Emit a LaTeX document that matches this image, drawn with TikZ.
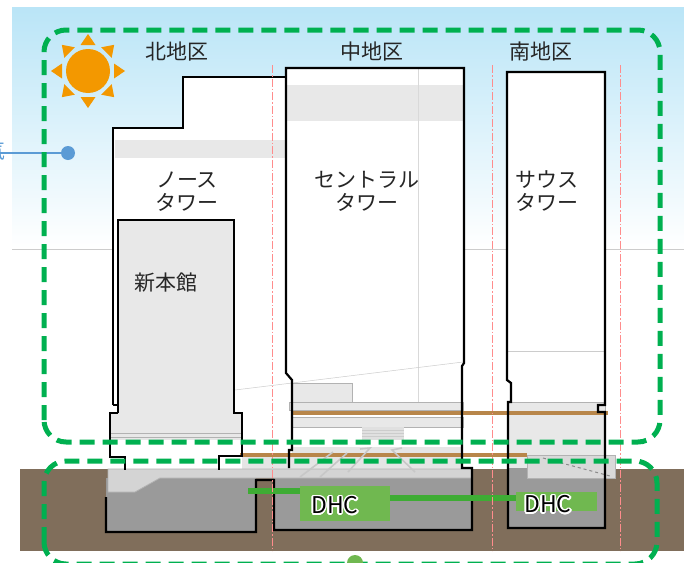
\documentclass[tikz,border=0pt]{standalone}
\usepackage{fontspec}
\setmainfont{Noto Sans CJK JP}
\usepackage[copies]{contour}
\contourlength{1.4pt}
\definecolor{skyblue}{RGB}{178,226,246}
\definecolor{soil}{RGB}{128,110,91}
\definecolor{zonegreen}{RGB}{0,176,80}
\definecolor{sunorange}{RGB}{243,152,0}
\definecolor{slabgray}{RGB}{232,232,232}
\definecolor{basegray}{RGB}{154,154,154}
\definecolor{beam}{RGB}{184,134,74}
\definecolor{dhcgreen}{RGB}{112,184,80}
\definecolor{pipegreen}{RGB}{62,172,52}
\definecolor{airblue}{RGB}{91,155,213}

\begin{document}
\begin{tikzpicture}[x=1pt,y=-1pt,inner sep=0pt]
\tikzstyle{wall}=[draw=black, line width=2.2pt, line join=miter]
\tikzstyle{zone}=[draw=zonegreen, line width=5pt, dash pattern=on 15pt off 8pt, rounded corners=22pt]
\tikzstyle{axis}=[draw=red!45, line width=0.8pt, dash pattern=on 8pt off 2pt on 1.5pt off 2pt]
\tikzstyle{floor}=[fill=slabgray, draw=black!30, line width=0.8pt]
\tikzstyle{ramp}=[draw=black!22, line width=1.6pt]
\tikzstyle{label}=[font=\fontsize{21}{23}\selectfont, align=center, text=black!85]
\tikzstyle{dhctext}=[font=\fontsize{23}{25}\selectfont, text=black]
\useasboundingbox (0,0) rectangle (684,562);
\shade[top color=skyblue!90!white, middle color=skyblue, bottom color=white] (12,7) rectangle (684,248);
\draw[black!20, line width=0.6pt] (12,249) -- (684,249);
\fill[soil] (20,469) rectangle (684,551);
\fill[sunorange] (88,71) circle (22);
\foreach \a in {0,45,...,315}
  \fill[sunorange, shift={(88,71)}, rotate=\a] (37,0) -- (26,7.5) -- (26,-7.5) -- cycle;
\coordinate (inlet) at (-2,153);
\node[circle, fill=airblue, minimum size=14pt] (vent) at (68,153) {};
\draw[airblue, line width=2.5pt] (inlet) -- (vent);
\node[font=\fontsize{21}{23}\selectfont, text=airblue] (air) at (-5,151) {気};
\fill[basegray] (106,478) rectangle (256,532);
\fill[basegray] (274,468) rectangle (472,530);
\fill[basegray] (508,468) rectangle (605,528);
\fill[white] (113,128) -- (183,128) -- (183,77) -- (286,77) -- (286,447) -- (242,447) -- (242,413) -- (113,413) -- cycle;
\fill[black!9] (115,140) rectangle (285,158);
\fill[white] (286,68) rectangle (464,468);
\fill[black!9] (287,85) rectangle (463,121);
\draw[black!15, line width=0.8pt] (418,69) -- (418,410);
\fill[white] (507,72) rectangle (605,402);
\draw[black!20, line width=0.6pt] (507,351) -- (605,351);
\draw[floor] (508,402) rectangle (605,442);
\fill[slabgray] (508,442) rectangle (605,468);
\fill[slabgray] (118,220) rectangle (234,413);
\fill[slabgray] (110,413) rectangle (242,440);
\draw[black!30, line width=0.6pt] (110,433) -- (242,433) (110,437) -- (242,437);
\fill[white] (110,440) rectangle (242,469);
\draw[black!20, line width=0.5pt] (235,390) -- (463,362);
\draw[floor] (292,383) rectangle (352,402);
\draw[floor] (289,402) rectangle (463,410);
\draw[floor] (291,417) rectangle (463,427);
\fill[black!12] (362,427) rectangle (404,440);
\foreach \y in {430,433,436}
  \draw[black!20, line width=0.5pt] (362,\y) -- (404,\y);
\fill[black!10] (292,447) rectangle (463,469);
\fill[black!10] (242,457) rectangle (292,469);
\draw[beam, line width=3.5pt] (291,413) -- (608,413);
\draw[beam, line width=3.5pt] (240,455) -- (527,455);
\draw[floor, fill=black!17] (108,469) -- (472,469) -- (472,478) -- (160,478) -- (135,492) -- (108,492) -- cycle;
\draw[ramp] (300,477) -- (333,452);
\draw[ramp] (320,477) -- (347,453);
\draw[ramp] (348,472) -- (370,448) -- (360,449);
\draw[ramp] (415,472) -- (392,450) -- (402,448);
\draw[floor, fill=black!15] (527,455) rectangle (615,478);
\draw[black!45, line width=1pt, dashed] (543,458) -- (610,476);
\draw[wall] (113,405) -- (113,128) -- (183,128) -- (183,77) -- (286,77);
\draw[wall] (113,405) -- (118,405);
\draw[wall] (118,413) -- (118,220) -- (234,220) -- (234,413) -- (242,413) -- (242,456) -- (219,456) -- (219,470);
\draw[wall] (118,413) -- (110,413) -- (110,457) -- (125,457) -- (125,470);
\draw[wall] (289,468) -- (289,450) -- (292,450) -- (292,380) -- (286,373) -- (286,68) -- (464,68) -- (464,363) -- (462,366) -- (462,468) -- (472,468) -- (472,530) -- (274,530) -- (274,480) -- (256,480) -- (256,532) -- (106,532) -- (106,497);
\draw[wall] (605,528) -- (508,528) -- (508,402) -- (511,402) -- (511,383) -- (507,380) -- (507,72) -- (605,72) -- (605,405) -- (598,405) -- (598,412) -- (605,412) -- cycle;
\draw[pipegreen, line width=6pt] (248,491) -- (300,491);
\draw[pipegreen, line width=6pt] (390,498) -- (516,498);
\fill[dhcgreen] (300,486) rectangle (390,521);
\fill[dhcgreen] (516,492) rectangle (597,511);
\node[dhctext] (dhcmid) at (335,506) {\contour{white}{DHC}};
\node[dhctext] (dhcsouth) at (548,505) {\contour{white}{DHC}};
\foreach \x in {272,492,620}
  \draw[axis] (\x,65) -- (\x,551);
\draw[zone] (44,442) rectangle (660,30);
\draw[zone] (44,564) rectangle (657,461);
\node[circle, fill=dhcgreen, minimum size=16pt] (tap) at (355,563) {};
\node[label] (northarea) at (177,52) {北地区};
\node[label] (midarea) at (372,52) {中地区};
\node[label] (southarea) at (541,52) {南地区};
\node[label] (northtower) at (187,192) {ノース\\タワー};
\node[label] (centraltower) at (367,191) {セントラル\\タワー};
\node[label] (southtower) at (547,191) {サウス\\タワー};
\node[label] (annex) at (166,283) {新本館};
\end{tikzpicture}
\end{document}
